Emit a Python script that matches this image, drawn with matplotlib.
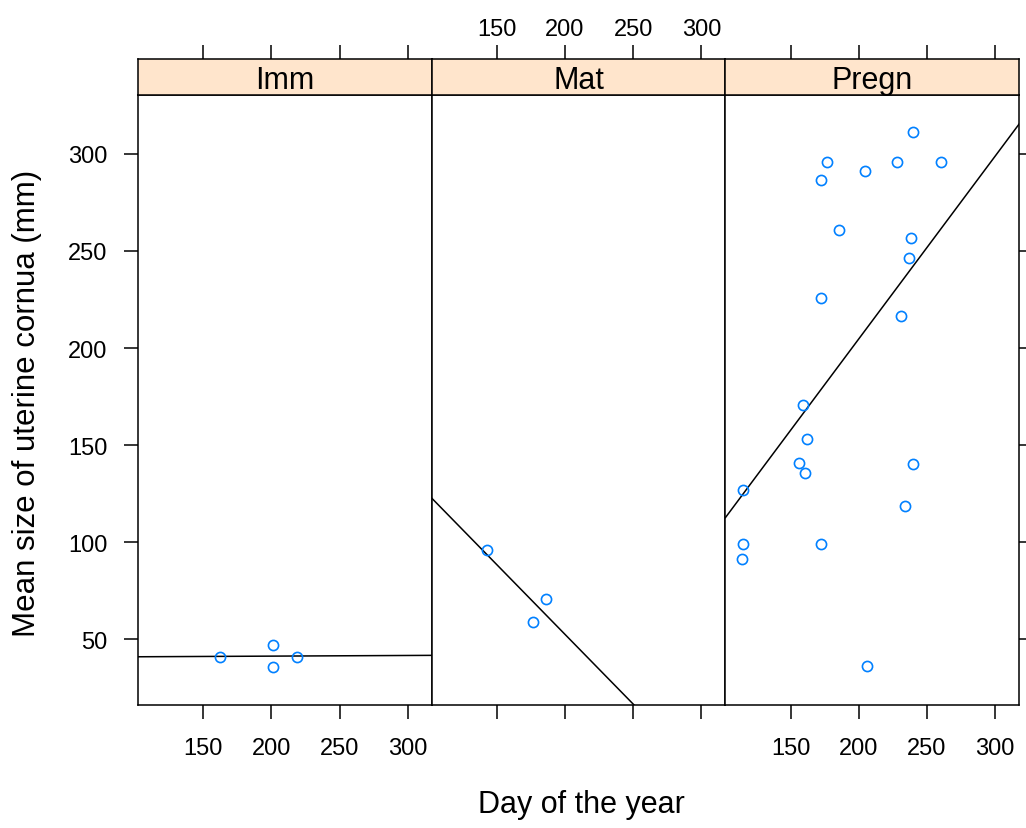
import numpy as np
import matplotlib
matplotlib.use("Agg")
import matplotlib.pyplot as plt

plt.rcParams['font.family'] = ['Liberation Sans', 'DejaVu Sans']

panels = ["Imm", "Mat", "Pregn"]
imm_day = [162.7, 201.2, 201.2, 218.9]
imm_size = [40.9, 47.1, 35.8, 40.9]
mat_day = [142.6, 176.5, 186.0]
mat_size = [95.9, 58.8, 70.6]
pregn_day = [115.4, 115.4, 114.7, 155.9, 160.3, 161.8, 158.8, 172.0, 172.0, 172.0,
             176.5, 185.3, 204.4, 205.9, 227.9, 239.7, 260.3, 238.2, 236.8, 230.9,
             239.7, 233.8]
pregn_size = [126.8, 99.0, 91.0, 140.7, 135.6, 153.0, 170.6, 225.8, 99.0, 286.6,
              295.9, 260.8, 291.0, 36.0, 296.0, 311.3, 296.0, 256.7, 246.4, 216.5,
              140.2, 118.6]
data = {"Imm": (imm_day, imm_size), "Mat": (mat_day, mat_size), "Pregn": (pregn_day, pregn_size)}

xticks = [150, 200, 250, 300]
yticks = [50, 100, 150, 200, 250, 300]
xlim = (102.2, 317.6)
ylim = (16.0, 330.4)

W, H = 1026, 829
fig = plt.figure(figsize=(W / 100, H / 100), dpi=100)

left_px, panel_w_px = 138, 293.7
bottom_px, top_px, strip_top_px = 706, 96, 60
lw = 1.1
pt_color = "#0080ff"
strip_color = "#ffe5cc"

for i, name in enumerate(panels):
    x0 = (left_px + i * panel_w_px) / W
    ax = fig.add_axes([x0, 1 - bottom_px / H, panel_w_px / W, (bottom_px - top_px) / H])
    sx = fig.add_axes([x0, 1 - top_px / H, panel_w_px / W, (top_px - strip_top_px) / H])
    xs, ys = data[name]
    ax.plot(xs, ys, 'o', mfc='none', mec=pt_color, ms=7.3, mew=1.2, zorder=3)
    b1, b0 = np.polyfit(xs, ys, 1)
    xx = np.array(xlim)
    ax.plot(xx, b0 + b1 * xx, color='black', lw=1.1, zorder=2)
    ax.set_xlim(*xlim)
    ax.set_ylim(*ylim)
    sx.set_xlim(*xlim)
    sx.set_ylim(0, 1)
    sx.set_facecolor(strip_color)
    sx.text(0.5, 0.42, name, transform=sx.transAxes, ha='center', va='center', fontsize=22)
    for a in (ax, sx):
        for s in a.spines.values():
            s.set_linewidth(lw)
    # x ticks
    ax.set_xticks(xticks)
    sx.set_xticks(xticks)
    sx.set_yticks([])
    label_bottom = (i != 1)
    ax.tick_params(axis='x', direction='out', length=10, width=lw, bottom=True, top=False,
                   labelbottom=label_bottom, labelsize=17, pad=13)
    sx.tick_params(axis='x', direction='out', length=10, width=lw, bottom=False, top=True,
                   labelbottom=False, labeltop=(i == 1), labelsize=17, pad=4)
    # y ticks
    ax.set_yticks(yticks)
    if i == 0:
        ax.tick_params(axis='y', direction='out', length=10, width=lw, left=True, right=False,
                       labelleft=True, labelsize=17, pad=12)
    elif i == 2:
        ax.tick_params(axis='y', direction='out', length=10, width=lw, left=False, right=True,
                       labelleft=False, labelright=False)
    else:
        ax.tick_params(axis='y', left=False, right=False, labelleft=False)

fig.text(581 / W, 1 - 805 / H, "Day of the year", ha='center', va='center', fontsize=22)
fig.text(27 / W, 1 - 403 / H, "Mean size of uterine cornua (mm)", ha='center', va='center',
         rotation=90, fontsize=22.5)

fig.savefig("out.png", dpi=100, facecolor='white')
